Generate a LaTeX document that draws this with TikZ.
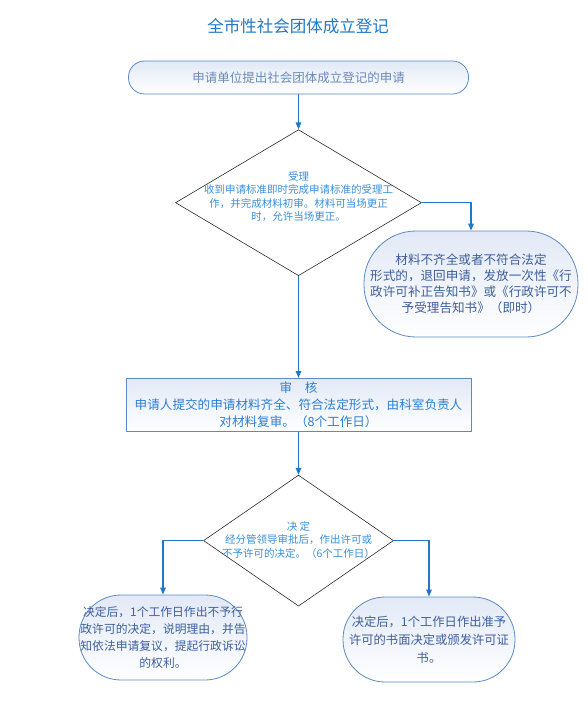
\documentclass[tikz,border=0pt]{standalone}
\usepackage{fontspec}
\newfontfamily\cjk{Noto Sans CJK SC}
\usepackage{xcolor}
\usepackage{tikz}
\usetikzlibrary{positioning,shapes.geometric,arrows.meta}

\definecolor{lineblue}{HTML}{1F78C8}
\definecolor{titleblue}{HTML}{2179C9}
\definecolor{boxedge}{HTML}{5B8AC5}
\definecolor{boxtop}{HTML}{E2E9F6}
\definecolor{diaedge}{HTML}{2B2B2B}
\definecolor{greyblue}{HTML}{6C8BB8}
\definecolor{lightblue}{HTML}{3A8FDB}
\definecolor{midblue}{HTML}{2D7FD2}
\definecolor{darkblue}{HTML}{3D5E9C}

\begin{document}
\begin{tikzpicture}[
  x=1pt, y=1pt,
  box/.style={rectangle, draw=boxedge, line width=0.8pt,
    top color=boxtop, bottom color=white, align=center,
    inner sep=0pt, font=\cjk},
  pill/.style={box, rounded corners=#1},
  choice/.style={diamond, draw=diaedge, line width=0.6pt, inner sep=0pt},
  note/.style={align=center, inner sep=0pt, font=\cjk},
  flow/.style={draw=lineblue, line width=1.4pt,
    -{Triangle[length=7pt,width=5.5pt]}},
  node distance=35pt
]
\fill[white] (0,0) rectangle (587,-727);
\useasboundingbox (0,0) rectangle (587,-727);

% ── Title ──
\node[note, text=titleblue, font=\cjk\fontsize{16.5}{18}\selectfont]
  (title) at (298,-26) {全市性社会团体成立登记};

% ── Nodes ──
\node[pill=16pt, minimum width=340pt, minimum height=33pt,
  text=greyblue, font=\cjk\fontsize{12.5}{15}\selectfont]
  (start) at (298.5,-77.5) {申请单位提出社会团体成立登记的申请};
\node[choice, minimum width=246pt, minimum height=146pt,
  below=35pt of start] (d1) {};
\node[note, text=lightblue, font=\cjk\fontsize{10.5}{13.6}\selectfont]
  (d1txt) at ([yshift=6pt]d1.center)
  {受理\\收到申请标准即时完成申请标准的受理工\\
   作，并完成材料初审。材料可当场更正\\时，允许当场更正。};
\node[pill=52pt, minimum width=214pt, minimum height=106pt,
  text=darkblue, font=\cjk\fontsize{12.6}{16}\selectfont]
  (reject) at (471,-284)
  {材料不齐全或者不符合法定\\形式的，退回申请，发放一次性《行\\
   政许可补正告知书》或《行政许可不\\予受理告知书》（即时）};
\node[box, minimum width=345pt, minimum height=53pt,
  text=midblue, font=\cjk\fontsize{12.6}{17}\selectfont,
  below=102pt of d1] (review)
  {审\hspace{1em}核\\申请人提交的申请材料齐全、符合法定形式，由科室负责人\\
   对材料复审。（8个工作日）};
\node[choice, minimum width=190pt, minimum height=131pt,
  below=43pt of review] (d2) {};
\node[note, text=lightblue, font=\cjk\fontsize{10.5}{13.5}\selectfont]
  (d2txt) at ([yshift=1pt]d2.center)
  {决~定\\经分管领导审批后，作出许可或\\不予许可的决定。（6个工作日）};
\node[pill=42pt, minimum width=168pt, minimum height=85pt,
  text=darkblue, font=\cjk\fontsize{11.8}{17.3}\selectfont]
  (deny) at (163,-637.5)
  {决定后，1个工作日作出不予行\\政许可的决定，说明理由，并告\\
   知依法申请复议，提起行政诉讼\\的权利。};
\node[pill=42pt, minimum width=172pt, minimum height=85pt,
  text=darkblue, font=\cjk\fontsize{12.3}{18}\selectfont]
  (grant) at (429,-639.5)
  {决定后，1个工作日作出准予\\许可的书面决定或颁发许可证\\书。};

% ── Main flow ──
\draw[flow] (start.south) -- (d1.north);
\draw[flow] (d1.south) -- (review.north);
\draw[flow] (review.south) -- (d2.north);

% ── Branches ──
\draw[flow] (d1.east) -| (reject.north);
\draw[flow] (d2.west) -| (deny.north);
\draw[flow] (d2.east) -| (grant.north);

\end{tikzpicture}
\end{document}
